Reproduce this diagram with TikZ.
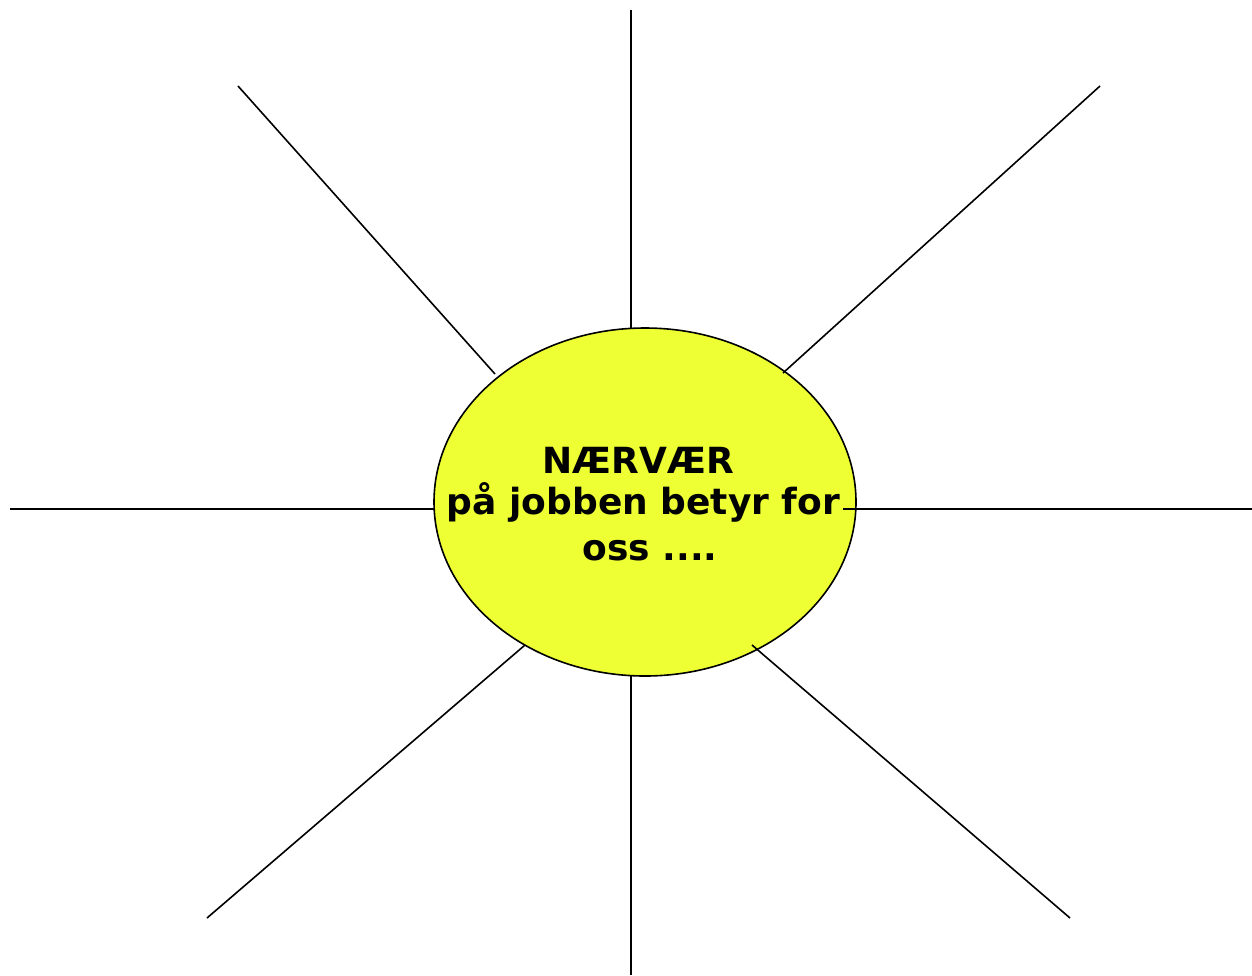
\documentclass[tikz,border=0pt]{standalone}
\usetikzlibrary{shapes.geometric}
\usepackage{fontspec}
\newfontfamily\suntext{DejaVu Sans}
\definecolor{sunyellow}{HTML}{EEFF33}
\begin{document}
\begin{tikzpicture}[x=1pt,y=-1pt,
  ray/.style={line width=1.6pt,black},
  sunshape/.style={ellipse,draw=black,line width=1.6pt,fill=sunyellow,minimum width=422pt,minimum height=348pt,inner sep=0pt},
  suntxt/.style={font=\suntext\bfseries\fontsize{36}{44}\selectfont,anchor=base,inner sep=0pt}]
\useasboundingbox (0,0) rectangle (1252,975);
\node[sunshape] (sun) at (645,502) {};
\node[suntxt] (t1) at (638.5,473) {NÆRVÆR};
\node[suntxt] (t2) at (643.5,514) {på jobben betyr for};
\node[suntxt] (t3) at (650,560) {oss ....};
% ray endpoints
\coordinate (nO) at (631,10);   \coordinate (nI) at (631,328);
\coordinate (nwO) at (238,86);  \coordinate (nwI) at (495,374);
\coordinate (neO) at (1100,86); \coordinate (neI) at (783,373);
\coordinate (wO) at (10,509);   \coordinate (wI) at (434,509);
\coordinate (eO) at (1252,509); \coordinate (eI) at (843,509);
\coordinate (swO) at (207,918); \coordinate (swI) at (525,645);
\coordinate (sO) at (631,975);  \coordinate (sI) at (631,676);
\coordinate (seO) at (1070,918);\coordinate (seI) at (752,645);
\foreach \r in {n,nw,ne,w,e,sw,s,se}{\draw[ray] (\r I) -- (\r O);}
\end{tikzpicture}
\end{document}
